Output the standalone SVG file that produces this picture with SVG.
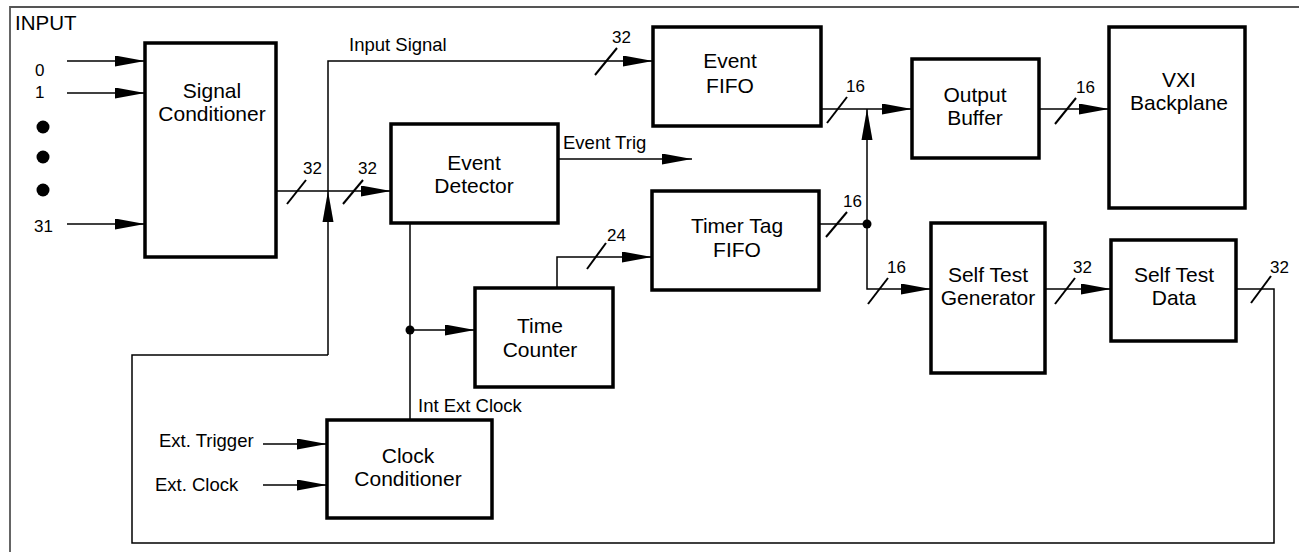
<svg xmlns="http://www.w3.org/2000/svg" width="1299" height="552" viewBox="0 0 1299 552">
  <style>
    .box { fill: #fff; stroke: #000; stroke-width: 3.5; }
    .wire { fill: none; stroke: #000; stroke-width: 1.5; }
    .tick { stroke: #000; stroke-width: 2; }
    .frame { fill: none; stroke: #555; stroke-width: 1.8; }
    .blk { font-family: "Liberation Sans", Arial, sans-serif; font-size: 21px; text-anchor: middle; fill: #000; }
    .lbl { font-family: "Liberation Sans", Arial, sans-serif; font-size: 18.5px; fill: #000; }
    .num { font-family: "Liberation Sans", Arial, sans-serif; font-size: 17px; fill: #000; }
    .head { fill: #000; }
  </style>
  <defs>
    <marker id="arr" markerUnits="userSpaceOnUse" markerWidth="31" markerHeight="11" refX="30" refY="5.5" orient="auto">
      <path d="M0,0 L30,5.5 L0,11 Z" fill="#000"/>
    </marker>
  </defs>

  <rect width="1299" height="552" fill="#fff"/>
  <path class="frame" d="M10,552 V7 H1299"/>
  <text class="lbl" x="15" y="30" style="font-size:20.5px">INPUT</text>

  <!-- input channels -->
  <g id="inputs">
    <text class="num" x="35" y="76">0</text>
    <text class="num" x="35" y="98">1</text>
    <text class="num" x="34" y="232">31</text>
    <circle cx="43" cy="127" r="6.5"/>
    <circle cx="43" cy="157" r="6.5"/>
    <circle cx="43" cy="190" r="6.5"/>
  </g>

  <g id="connectors">
    <path class="wire" d="M67,61 H145" marker-end="url(#arr)"/>
    <path class="wire" d="M67,93 H145" marker-end="url(#arr)"/>
    <path class="wire" d="M67,224 H145" marker-end="url(#arr)"/>

    <!-- conditioner to detector -->
    <path class="wire" d="M276,191 H391" marker-end="url(#arr)"/>
    <line class="tick" x1="287" y1="204" x2="306" y2="180"/>
    <line class="tick" x1="343" y1="204" x2="363" y2="180"/>
    <text class="num" x="303" y="174">32</text>
    <text class="num" x="358" y="174">32</text>

    <!-- input signal bus with self-test feedback -->
    <path class="wire" d="M328,355 V61 H653" marker-end="url(#arr)"/>
    <path class="head" d="M328,191 L333.5,222 L322.5,222 Z"/>
    <line class="tick" x1="595" y1="75" x2="617" y2="48"/>
    <text class="num" x="612" y="43">32</text>
    <text class="lbl" x="349" y="51">Input Signal</text>

    <!-- event trig -->
    <path class="wire" d="M558,159 H692" marker-end="url(#arr)"/>
    <text class="lbl" x="563" y="149">Event Trig</text>

    <!-- clock line -->
    <path class="wire" d="M410,223 V420"/>
    <path class="wire" d="M410,330 H475" marker-end="url(#arr)"/>
    <circle cx="410" cy="330" r="4.5"/>
    <text class="lbl" x="418" y="412">Int Ext Clock</text>

    <!-- external clock inputs -->
    <path class="wire" d="M263,444 H327" marker-end="url(#arr)"/>
    <path class="wire" d="M263,485 H327" marker-end="url(#arr)"/>
    <text class="lbl" x="159" y="447">Ext. Trigger</text>
    <text class="lbl" x="155" y="491">Ext. Clock</text>

    <!-- time counter to timer tag -->
    <path class="wire" d="M557,288 V257 H652" marker-end="url(#arr)"/>
    <line class="tick" x1="587" y1="269" x2="606" y2="243"/>
    <text class="num" x="607" y="241">24</text>

    <!-- FIFO outputs -->
    <path class="wire" d="M820,109 H912" marker-end="url(#arr)"/>
    <line class="tick" x1="827" y1="123" x2="847" y2="97"/>
    <text class="num" x="846" y="92">16</text>

    <path class="wire" d="M819,224 H867"/>
    <line class="tick" x1="826" y1="237" x2="847" y2="212"/>
    <text class="num" x="843" y="207">16</text>
    <circle cx="867" cy="224" r="4.5"/>
    <path class="wire" d="M867,224 V109"/>
    <path class="head" d="M867,109 L872.5,140 L861.5,140 Z"/>

    <path class="wire" d="M867,224 V289 H931" marker-end="url(#arr)"/>
    <line class="tick" x1="868" y1="304" x2="888" y2="278"/>
    <text class="num" x="887" y="273">16</text>

    <!-- output buffer to backplane -->
    <path class="wire" d="M1039,109 H1109" marker-end="url(#arr)"/>
    <line class="tick" x1="1055" y1="124" x2="1076" y2="98"/>
    <text class="num" x="1076" y="93">16</text>

    <!-- self test chain -->
    <path class="wire" d="M1045,289 H1111" marker-end="url(#arr)"/>
    <line class="tick" x1="1055" y1="304" x2="1075" y2="278"/>
    <text class="num" x="1073" y="273">32</text>

    <path class="wire" d="M1236,289 H1274 V543 H132 V355 H328"/>
    <line class="tick" x1="1251" y1="303" x2="1271" y2="276"/>
    <text class="num" x="1270" y="273">32</text>
  </g>

  <g id="signal-conditioner">
    <rect class="box" x="145" y="43" width="131" height="214"/>
    <text class="blk" x="212" y="98">Signal</text>
    <text class="blk" x="212" y="121">Conditioner</text>
  </g>

  <g id="event-detector">
    <rect class="box" x="391" y="124" width="167" height="99"/>
    <text class="blk" x="474" y="170">Event</text>
    <text class="blk" x="474" y="193">Detector</text>
  </g>

  <g id="event-fifo">
    <rect class="box" x="653" y="27" width="168" height="99"/>
    <text class="blk" x="730" y="68">Event</text>
    <text class="blk" x="730" y="93">FIFO</text>
  </g>

  <g id="timer-tag-fifo">
    <rect class="box" x="652" y="191" width="167" height="99"/>
    <text class="blk" x="737" y="233">Timer Tag</text>
    <text class="blk" x="737" y="257">FIFO</text>
  </g>

  <g id="time-counter">
    <rect class="box" x="475" y="288" width="138" height="99"/>
    <text class="blk" x="540" y="333">Time</text>
    <text class="blk" x="540" y="357">Counter</text>
  </g>

  <g id="clock-conditioner">
    <rect class="box" x="327" y="420" width="165" height="98"/>
    <text class="blk" x="408" y="463">Clock</text>
    <text class="blk" x="408" y="486">Conditioner</text>
  </g>

  <g id="output-buffer">
    <rect class="box" x="912" y="59" width="127" height="99"/>
    <text class="blk" x="975" y="102">Output</text>
    <text class="blk" x="975" y="125">Buffer</text>
  </g>

  <g id="vxi-backplane">
    <rect class="box" x="1109" y="27" width="136" height="181"/>
    <text class="blk" x="1179" y="87">VXI</text>
    <text class="blk" x="1179" y="110">Backplane</text>
  </g>

  <g id="self-test-generator">
    <rect class="box" x="931" y="223" width="114" height="150"/>
    <text class="blk" x="988" y="282">Self Test</text>
    <text class="blk" x="988" y="305">Generator</text>
  </g>

  <g id="self-test-data">
    <rect class="box" x="1111" y="240" width="125" height="101"/>
    <text class="blk" x="1174" y="282">Self Test</text>
    <text class="blk" x="1174" y="305">Data</text>
  </g>
</svg>
